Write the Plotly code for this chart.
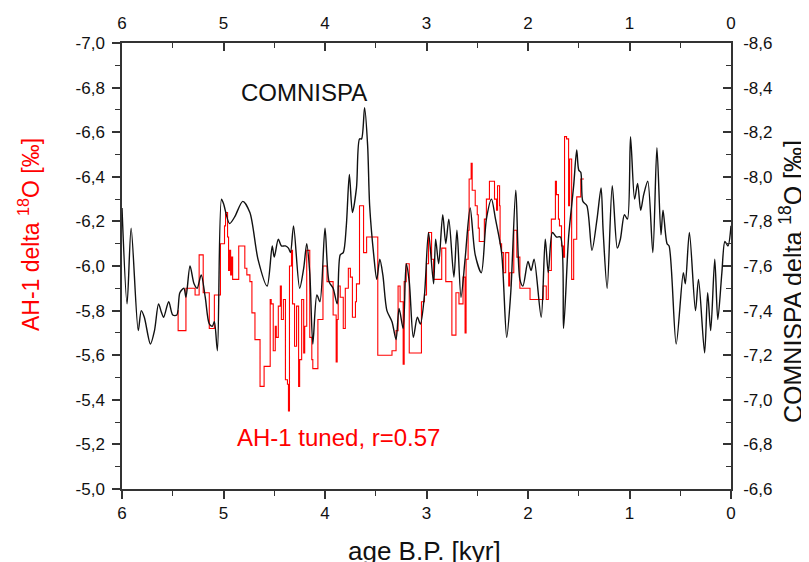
import plotly.graph_objects as go

# COMNISPA (black, right axis) : age [kyr BP], delta18O [permil]
com_age = [6.00, 5.95, 5.91, 5.84, 5.81, 5.78, 5.72, 5.68, 5.64, 5.61, 5.59, 5.54, 5.50, 5.46,
           5.43, 5.39, 5.37, 5.33, 5.29, 5.26, 5.22, 5.18, 5.14, 5.11, 5.09, 5.06, 5.02, 5.00,
           4.94, 4.89, 4.81, 4.74, 4.66, 4.57, 4.52, 4.50, 4.46, 4.43, 4.39, 4.36, 4.34, 4.31,
           4.25, 4.21, 4.18, 4.15, 4.12, 4.08, 4.05, 4.00, 3.96, 3.92, 3.88, 3.85, 3.82, 3.79,
           3.76, 3.73, 3.69, 3.66, 3.64, 3.61, 3.58, 3.56, 3.52, 3.49, 3.46, 3.43, 3.39, 3.34,
           3.30, 3.27, 3.23, 3.20, 3.17, 3.13, 3.09, 3.06, 3.02, 2.98, 2.93, 2.91, 2.88, 2.84,
           2.81, 2.78, 2.73, 2.70, 2.66, 2.62, 2.57, 2.52, 2.46, 2.41, 2.36, 2.32, 2.26, 2.21,
           2.17, 2.12, 2.08, 2.05, 2.00, 1.97, 1.94, 1.87, 1.83, 1.80, 1.76, 1.72, 1.68, 1.65,
           1.60, 1.55, 1.52, 1.50, 1.48, 1.46, 1.42, 1.37, 1.32, 1.28, 1.26, 1.22, 1.17, 1.12,
           1.09, 1.05, 1.02, 0.99, 0.95, 0.92, 0.89, 0.86, 0.82, 0.77, 0.73, 0.69, 0.67, 0.63,
           0.61, 0.54, 0.47, 0.45, 0.41, 0.35, 0.32, 0.26, 0.23, 0.20, 0.16, 0.13, 0.09, 0.06,
           0.03, 0.00]
com_d18o = [-7.86, -7.43, -7.77, -7.31, -7.40, -7.37, -7.25, -7.31, -7.43, -7.39, -7.37, -7.44, -7.38, -7.38,
            -7.48, -7.50, -7.46, -7.60, -7.52, -7.50, -7.56, -7.46, -7.34, -7.33, -7.35, -7.22, -7.90, -7.88,
            -7.79, -7.82, -7.89, -7.84, -7.63, -7.51, -7.69, -7.64, -7.72, -7.69, -7.69, -7.68, -7.66, -7.78,
            -7.50, -7.59, -7.70, -7.57, -7.25, -7.47, -7.44, -7.77, -7.53, -7.50, -7.43, -7.65, -7.66, -7.78,
            -8.01, -7.84, -7.95, -8.17, -8.17, -8.31, -8.14, -7.87, -7.65, -7.54, -7.63, -7.56, -7.40, -7.35,
            -7.27, -7.41, -7.32, -7.61, -7.53, -7.28, -7.37, -7.34, -7.47, -7.75, -7.52, -7.72, -7.61, -7.83,
            -7.70, -7.81, -7.55, -7.76, -7.46, -7.63, -7.86, -7.65, -7.57, -7.81, -7.90, -7.81, -7.66, -7.28,
            -7.48, -7.94, -7.54, -7.51, -7.62, -7.58, -7.63, -7.37, -7.72, -7.57, -7.75, -7.73, -7.73, -7.32,
            -7.73, -7.96, -8.12, -8.03, -8.02, -7.89, -7.87, -7.67, -7.81, -7.95, -7.76, -7.50, -7.96, -7.68,
            -7.72, -7.83, -7.81, -8.18, -7.90, -7.97, -7.85, -7.92, -7.98, -7.66, -8.13, -7.74, -7.85, -7.70,
            -7.69, -7.25, -7.57, -7.52, -7.75, -7.40, -7.54, -7.21, -7.48, -7.31, -7.63, -7.36, -7.57, -7.71,
            -7.69, -7.78]

# AH-1 tuned (red, left axis, step curve)
ah_age = [5.45, 5.447, 5.37, 5.28, 5.24, 5.20, 5.14, 5.09, 5.03, 4.99, 4.98, 4.96, 4.95, 4.94, 4.93,
          4.92, 4.91, 4.85, 4.79, 4.77, 4.74, 4.72, 4.69, 4.64, 4.60, 4.54, 4.53, 4.51, 4.49, 4.48,
          4.46, 4.44, 4.43, 4.41, 4.39, 4.37, 4.36, 4.35, 4.33, 4.32, 4.30, 4.28, 4.26, 4.25, 4.23,
          4.21, 4.20, 4.18, 4.15, 4.13, 4.12, 4.07, 4.02, 3.98, 3.92, 3.89, 3.88, 3.87, 3.85, 3.82,
          3.80, 3.77, 3.75, 3.73, 3.70, 3.69, 3.66, 3.62, 3.59, 3.48, 3.34, 3.30, 3.28, 3.26, 3.23,
          3.22, 3.20, 3.17, 3.05, 3.02, 3.00, 2.98, 2.95, 2.93, 2.85, 2.81, 2.75, 2.71, 2.68, 2.64,
          2.62, 2.61, 2.59, 2.58, 2.56, 2.55, 2.52, 2.50, 2.49, 2.48, 2.43, 2.41, 2.38, 2.33, 2.31,
          2.30, 2.28, 2.275, 2.26, 2.24, 2.22, 2.19, 2.18, 2.14, 2.11, 2.08, 1.98, 1.85, 1.82, 1.80,
          1.77, 1.73, 1.72, 1.70, 1.69, 1.67, 1.65, 1.64, 1.62, 1.60, 1.59, 1.57, 1.55, 1.52, 1.48,
          1.45]
ah_d18o = [-5.80, -5.71, -5.90, -5.87, -6.05, -5.88, -5.72, -5.87, -6.10, -6.18, -6.24, -6.13, -5.98, -6.07, -5.96,
           -6.04, -5.94, -6.09, -5.99, -5.96, -5.93, -5.79, -5.67, -5.46, -5.55, -5.85, -5.83, -5.62, -5.73, -5.68,
           -5.82, -5.91, -5.76, -5.85, -5.49, -5.47, -5.35, -6.00, -6.07, -5.83, -5.64, -5.82, -5.46, -5.58, -5.85,
           -5.61, -5.73, -6.07, -5.68, -5.58, -5.54, -5.76, -6.00, -5.93, -5.78, -5.57, -5.76, -5.91, -5.86, -5.72,
           -5.90, -5.99, -5.95, -5.77, -5.84, -5.92, -6.27, -6.06, -6.13, -5.60, -5.62, -5.71, -5.91, -5.84, -5.56,
           -5.93, -6.01, -5.61, -5.84, -5.87, -6.01, -6.15, -6.03, -5.94, -6.08, -5.93, -5.69, -5.88, -5.83, -5.95,
           -5.70, -6.03, -6.16, -6.39, -6.46, -6.34, -6.27, -6.23, -6.17, -6.11, -6.21, -6.30, -6.38, -6.30, -6.25,
           -6.36, -6.27, -6.10, -6.06, -5.97, -6.06, -5.91, -5.97, -6.16, -6.04, -5.90, -5.85, -5.91, -5.85, -5.98,
           -6.21, -6.38, -6.32, -6.21, -6.18, -6.09, -6.04, -6.58, -6.57, -6.27, -6.48, -5.94, -6.12, -6.31, -6.39,
           -6.39]

x_ticks = [6, 5, 4, 3, 2, 1, 0]
left_vals = [-7.0, -6.8, -6.6, -6.4, -6.2, -6.0, -5.8, -5.6, -5.4, -5.2, -5.0]
left_text = ["-7,0", "-6,8", "-6,6", "-6,4", "-6,2", "-6,0", "-5,8", "-5,6", "-5,4", "-5,2", "-5,0"]
right_vals = [-8.6, -8.4, -8.2, -8.0, -7.8, -7.6, -7.4, -7.2, -7.0, -6.8, -6.6]
right_text = ["-8,6", "-8,4", "-8,2", "-8,0", "-7,8", "-7,6", "-7,4", "-7,2", "-7,0", "-6,8", "-6,6"]

FONT = "Liberation Sans, Arial, sans-serif"
AX = "#333333"

fig = go.Figure()
fig.add_trace(go.Scatter(x=ah_age, y=ah_d18o, mode="lines", line=dict(color="#ff0000", width=1.1, shape="hv"),
                         xaxis="x", yaxis="y", showlegend=False, hoverinfo="skip"))
fig.add_trace(go.Scatter(x=com_age, y=com_d18o, mode="lines",
                         line=dict(color="#111111", width=1.4, shape="spline", smoothing=0.8),
                         xaxis="x2", yaxis="y2", showlegend=False, hoverinfo="skip"))

common = dict(showline=True, linecolor=AX, linewidth=1.5, showgrid=False, zeroline=False,
              automargin=False, ticklen=8, tickwidth=1.5, tickcolor=AX)

fig.update_layout(
    width=801, height=554,
    margin=dict(l=114, r=78, t=35, b=73, autoexpand=False),
    paper_bgcolor="white", plot_bgcolor="white",
    font=dict(family=FONT, size=17, color="#111111"),
    xaxis=dict(range=[6, 0], tickvals=x_ticks, ticktext=[str(t) for t in x_ticks], ticks="outside",
               minor=dict(ticks="outside", dtick=0.5, ticklen=5, tickwidth=1.2, tickcolor=AX), **common),
    xaxis2=dict(range=[6, 0], overlaying="x", side="top", matches="x", tickvals=x_ticks,
                ticktext=[str(t) for t in x_ticks], ticks="inside", ticklabelstandoff=5,
                minor=dict(ticks="inside", dtick=0.5, ticklen=5, tickwidth=1.2, tickcolor=AX), **common),
    yaxis=dict(range=[-5.0, -7.0], tickvals=left_vals, ticktext=left_text, ticks="outside",
               ticklabelstandoff=4,
               minor=dict(ticks="outside", dtick=0.1, ticklen=5, tickwidth=1.2, tickcolor=AX), **common),
    yaxis2=dict(range=[-6.6, -8.6], overlaying="y", side="right", tickvals=right_vals, ticktext=right_text,
                ticks="inside", ticklabelstandoff=7,
                minor=dict(ticks="inside", dtick=0.1, ticklen=5, tickwidth=1.2, tickcolor=AX), **common),
    annotations=[
        dict(text="age B.P. [kyr]", x=0.4975, y=-0.139, xref="paper", yref="paper", showarrow=False,
             xanchor="center", yanchor="middle", font=dict(size=26, color="#111111")),
        dict(text="AH-1 delta <sup>18</sup>O [‰]", x=-0.1527, y=0.5695, xref="paper", yref="paper",
             showarrow=False, textangle=-90, xanchor="center", yanchor="middle",
             font=dict(size=23, color="#ff0000")),
        dict(text="COMNISPA delta <sup>18</sup>O [‰]", x=1.0985, y=0.4664, xref="paper", yref="paper",
             showarrow=False, textangle=-90, xanchor="center", yanchor="middle",
             font=dict(size=25, color="#111111")),
        dict(text="COMNISPA", x=4.21, y=-6.78, xref="x", yref="y", showarrow=False,
             font=dict(size=24, color="#111111")),
        dict(text="AH-1 tuned, r=0.57", x=4.89, y=-5.233, xref="x", yref="y", showarrow=False,
             xanchor="left", font=dict(size=24, color="#ff0000")),
    ],
)

fig.write_html("out.html")
